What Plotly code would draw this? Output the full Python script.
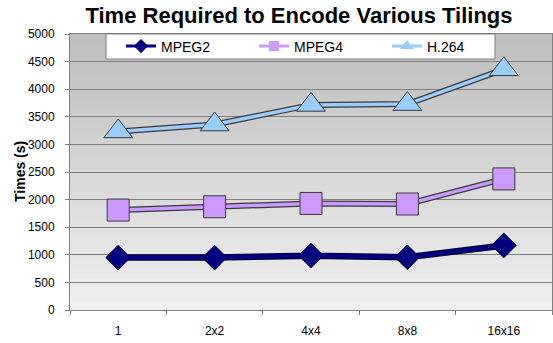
import plotly.graph_objects as go

categories = ["1", "2x2", "4x4", "8x8", "16x16"]
mpeg2 = [950, 950, 985, 955, 1170]
mpeg4 = [1810, 1870, 1930, 1920, 2375]
h264 = [3235, 3360, 3715, 3730, 4360]
y_ticks = list(range(0, 5001, 500))

FONT = "Arial, Liberation Sans, sans-serif"

series = [
    dict(name="MPEG2", y=mpeg2, color="#000080", edge="#00002a", symbol="diamond", size=19, lsize=11, w_out=6.5, w_in=4.5),
    dict(name="MPEG4", y=mpeg4, color="#CC99FF", edge="#3a3a3a", symbol="square", size=22, lsize=10, w_out=6, w_in=3.5),
    dict(name="H.264", y=h264, color="#99CCFF", edge="#3a3a3a", symbol="triangle-up", size=25, lsize=12, w_out=6, w_in=3.5),
]

fig = go.Figure()

for s in series:
    fig.add_trace(go.Scatter(
        x=categories, y=s["y"], mode="lines", showlegend=False, hoverinfo="skip",
        line=dict(color=s["edge"], width=s["w_out"]),
    ))
    fig.add_trace(go.Scatter(
        x=categories, y=s["y"], mode="lines+markers", name=s["name"], showlegend=False,
        line=dict(color=s["color"], width=s["w_in"]),
        marker=dict(symbol=s["symbol"], size=s["size"], color=s["color"],
                    line=dict(color=s["edge"], width=1)),
    ))

# legend-only entries with small symbols, like the original legend
for s in series:
    fig.add_trace(go.Scatter(
        x=[None], y=[None], mode="lines+markers", name=s["name"],
        line=dict(color=s["color"], width=3),
        marker=dict(symbol=s["symbol"], size=s["lsize"], color=s["color"],
                    line=dict(color=s["color"], width=0)),
    ))

# gradient background bands (decoration)
n = 60
top = (0xBD, 0xBD, 0xBD)
bot = (0xF0, 0xF0, 0xF0)
shapes = []
for i in range(n):
    t = i / (n - 1)
    c = tuple(round(bot[k] + (top[k] - bot[k]) * t) for k in range(3))
    shapes.append(dict(type="rect", xref="x domain", yref="y domain",
                       x0=0, x1=1, y0=i / n, y1=(i + 1) / n + 0.002,
                       fillcolor="rgb(%d,%d,%d)" % c, line=dict(width=0), layer="below"))

# legend frame
PW, PH, PL, PT = 482, 276, 70, 34
shapes.append(dict(type="rect", xref="paper", yref="paper",
                   x0=(106 - PL) / PW, x1=(495 - PL) / PW,
                   y0=1 - (59 - PT) / PH, y1=1 - (34 - PT) / PH,
                   fillcolor="white", line=dict(color="#808080", width=1), layer="above"))

fig.update_layout(
    width=553, height=343,
    margin=dict(l=70, r=1, t=34, b=33, autoexpand=False),
    paper_bgcolor="white",
    plot_bgcolor="#dcdcdc",
    shapes=shapes,
    font=dict(family=FONT, color="black"),
    title=dict(text="<b>Time Required to Encode Various Tilings</b>",
               font=dict(size=22, family=FONT, color="black"),
               xref="container", yref="container", x=299 / 553, xanchor="center",
               y=1 - 15 / 343, yanchor="middle"),
    legend=dict(orientation="h", x=(121 - PL) / PW, y=1 - (46.5 - PT) / PH,
                xanchor="left", yanchor="middle",
                bgcolor="rgba(0,0,0,0)", borderwidth=0,
                font=dict(size=14, family=FONT, color="black"),
                entrywidth=88, entrywidthmode="pixels", itemsizing="trace"),
    showlegend=True,
    annotations=[dict(text="<b>Times (s)</b>", xref="paper", yref="paper",
                      x=(20 - PL) / PW, y=0.5, xanchor="center", yanchor="middle",
                      textangle=-90, showarrow=False,
                      font=dict(size=14, family=FONT, color="black"))],
)

fig.update_xaxes(
    type="category", range=[-0.5, len(categories) - 0.5], autorange=False,
    tickson="boundaries", ticks="outside", ticklen=4,
    tickcolor="#808080", showgrid=False, showline=True, linecolor="#808080",
    linewidth=1, mirror=True, tickfont=dict(size=12, family=FONT, color="black"),
    ticklabelstandoff=10, fixedrange=True, automargin=False,
)
fig.update_yaxes(
    range=[0, 5000], autorange=False, tickvals=y_ticks, ticks="outside", ticklen=4,
    tickcolor="#808080", showgrid=True, gridcolor="#7f7f7f", gridwidth=1,
    showline=True, linecolor="#808080", linewidth=1, mirror=True,
    zeroline=False, tickfont=dict(size=12, family=FONT, color="black"),
    ticklabelstandoff=8, fixedrange=True, automargin=False,
)

fig.write_html("out.html", config={"displayModeBar": False},
               post_script="document.body.style.margin='0';")
